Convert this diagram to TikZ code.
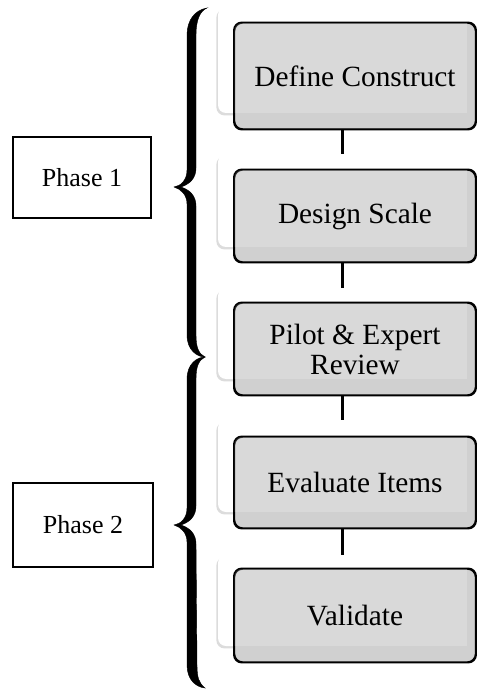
\documentclass[tikz,border=0pt]{standalone}
\usepackage{fontspec}
\setmainfont{Liberation Serif}
\usetikzlibrary{shadows}
\definecolor{boxgrey}{RGB}{208,208,208}
\begin{document}
\begin{tikzpicture}[x=0.75pt,y=-0.75pt,
  backbox/.style={draw=none,fill=white,rounded corners=6pt,
    drop shadow={shadow xshift=-1.2pt,shadow yshift=-1.8pt,opacity=0.45,fill=gray!60}},
  greybox/.style={draw=black,line width=1.1pt,fill=boxgrey,rounded corners=6pt},
  steptext/.style={font=\fontsize{22}{22.5}\selectfont,align=center},
  phasebox/.style={draw=black,line width=1.2pt,fill=white,font=\fontsize{19.5}{22}\selectfont},
  link/.style={line width=2.2pt,black},
  bracefill/.style={fill=black,draw=black,line width=0.3pt}]
\useasboundingbox (0,0) rectangle (476,691);
\fill[white] (0,0) rectangle (476,691);

% white back boxes
\node[backbox,minimum width=186.75pt,minimum height=79.5pt] (w1) at (342.5,60) {};
\node[backbox,minimum width=186.75pt,minimum height=69.75pt] (w2) at (342.5,200.5) {};
\node[backbox,minimum width=186.75pt,minimum height=68.25pt] (w3) at (342.5,333.5) {};
\node[backbox,minimum width=186.75pt,minimum height=69pt] (w4) at (342.5,466) {};
\node[backbox,minimum width=186.75pt,minimum height=68.25pt] (w5) at (342.5,600.5) {};

% grey step boxes
\node[greybox,minimum width=180.75pt,minimum height=79.5pt] (g1) at (355,76) {};
\node[greybox,minimum width=180.75pt,minimum height=69pt] (g2) at (355,216) {};
\node[greybox,minimum width=180.75pt,minimum height=69pt] (g3) at (355,349) {};
\node[greybox,minimum width=180.75pt,minimum height=68.25pt] (g4) at (355,482.5) {};
\node[greybox,minimum width=180.75pt,minimum height=69.75pt] (g5) at (355,615.5) {};

% lighter overlay where the white box lies under the grey box
\foreach \i in {1,...,5}{
  \begin{scope}
    \clip[rounded corners=6pt] (g\i.south west) rectangle (g\i.north east);
    \fill[white,opacity=0.2] (w\i.south west) rectangle (w\i.north east);
  \end{scope}
  \draw[draw=black,line width=1.1pt,rounded corners=6pt] (g\i.south west) rectangle (g\i.north east);
}

\node[steptext] (t1) at (g1) {Define Construct};
\node[steptext] (t2) at (g2) {Design Scale};
\node[steptext] (t3) at (g3) {Pilot \& Expert\\Review};
\node[steptext] (t4) at (g4) {Evaluate Items};
\node[steptext] (t5) at (g5) {Validate};

% connectors
\draw[link] (w2.north |- g1.south) -- (w2.north);
\draw[link] (w3.north |- g2.south) -- (w3.north);
\draw[link] (w4.north |- g3.south) -- (w4.north);
\draw[link] (w5.north |- g4.south) -- (w5.north);

% phase boxes
\node[phasebox,minimum width=103.5pt,minimum height=60.75pt] (p1) at (82,177.5) {Phase 1};
\node[phasebox,minimum width=105pt,minimum height=63pt] (p2) at (83,525) {Phase 2};

% brace 1
\fill[bracefill] (207,8) .. controls (195,10) and (187,20) .. (187,35)
  -- (187,170) .. controls (187,180) and (181,186) .. (174,187)
  .. controls (181,189) and (187,195) .. (187,204)
  -- (187,335) .. controls (187,350) and (197,357) .. (205,357)
  .. controls (199,354) and (196,348) .. (196,335)
  -- (196,206) .. controls (196,196) and (190,190) .. (181,187)
  .. controls (190,184) and (196,178) .. (196,168)
  -- (196,35) .. controls (196,20) and (200,11) .. (207,8) -- cycle;
% brace 2
\fill[bracefill] (205,357) .. controls (197,357) and (187,364) .. (187,379)
  -- (187,508) .. controls (187,518) and (181,524) .. (174,525)
  .. controls (181,527) and (187,533) .. (187,542)
  -- (187,665) .. controls (187,680) and (196,687) .. (205,688)
  .. controls (199,683) and (197,678) .. (197,665)
  -- (196,544) .. controls (196,534) and (190,528) .. (181,525)
  .. controls (190,522) and (196,516) .. (196,506)
  -- (196,379) .. controls (196,366) and (199,360) .. (205,357) -- cycle;
\end{tikzpicture}
\end{document}
